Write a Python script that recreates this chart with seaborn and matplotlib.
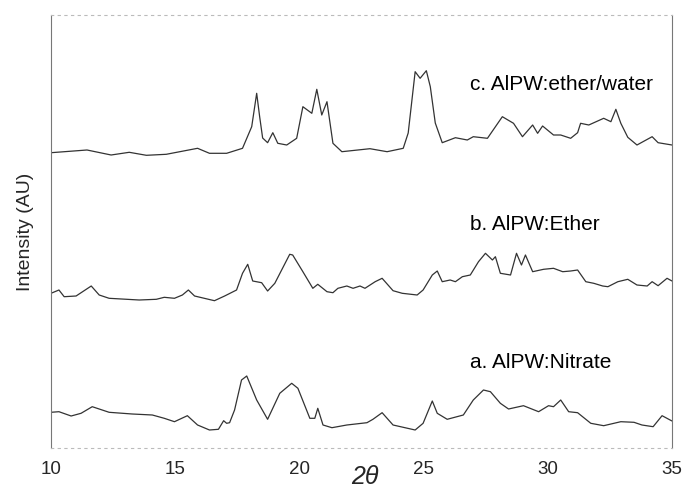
import matplotlib
matplotlib.use("Agg")
import matplotlib.pyplot as plt
import seaborn as sns

# trace a: AlPW:Nitrate
two_theta_a = [10.00, 10.32, 10.81, 11.21, 11.66, 12.34, 13.27, 14.08, 14.56, 14.97, 15.49, 15.90,
               16.38, 16.74, 16.95, 17.07, 17.19, 17.39, 17.67, 17.88, 18.28, 18.72, 19.21, 19.69,
               19.94, 20.42, 20.62, 20.74, 20.95, 21.31, 21.91, 22.72, 22.96, 23.33, 23.77, 24.66,
               24.98, 25.35, 25.55, 25.95, 26.60, 27.00, 27.41, 27.69, 28.09, 28.42, 29.02, 29.63,
               30.03, 30.23, 30.52, 30.84, 31.20, 31.73, 32.25, 32.94, 33.47, 33.79, 34.24, 34.60, 35.00]
intensity_a = [35.7, 36.3, 32.0, 34.7, 41.3, 35.7, 34.0, 33.0, 29.7, 26.3, 32.3, 23.0,
               18.0, 18.7, 27.3, 24.7, 25.3, 38.0, 68.0, 72.0, 48.0, 28.7, 54.7, 64.7,
               59.7, 29.7, 29.7, 39.7, 23.0, 20.3, 23.0, 25.3, 28.7, 35.3, 23.0, 18.0,
               24.7, 47.0, 34.7, 28.7, 33.0, 48.0, 58.0, 56.3, 44.7, 39.0, 42.3, 36.3,
               42.3, 41.3, 48.0, 36.3, 35.3, 24.7, 22.3, 26.3, 25.7, 23.0, 21.3, 32.3, 27.0]

# trace b: AlPW:Ether
two_theta_b = [10.00, 10.32, 10.53, 11.01, 11.62, 11.94, 12.34, 13.55, 14.24, 14.56, 14.97, 15.29,
               15.53, 15.78, 16.58, 16.99, 17.47, 17.71, 17.92, 18.12, 18.48, 18.72, 19.01, 19.61,
               19.73, 20.14, 20.54, 20.74, 21.11, 21.35, 21.55, 21.91, 22.16, 22.44, 22.64, 23.05,
               23.33, 23.77, 24.14, 24.74, 24.98, 25.35, 25.55, 25.75, 26.07, 26.28, 26.56, 26.88,
               27.21, 27.49, 27.77, 27.89, 28.09, 28.50, 28.74, 28.94, 29.10, 29.39, 29.83, 30.23,
               30.60, 30.92, 31.20, 31.53, 31.85, 32.21, 32.42, 32.82, 33.22, 33.59, 34.00, 34.20,
               34.44, 34.80, 35.00]
intensity_b = [154.7, 158.0, 151.3, 152.0, 162.0, 153.0, 149.7, 148.0, 148.7, 150.7, 149.7, 153.0,
               158.0, 152.0, 147.3, 152.0, 158.0, 174.7, 183.7, 167.0, 165.3, 157.0, 164.7, 193.7,
               193.0, 176.3, 159.7, 163.7, 156.3, 155.3, 159.7, 162.0, 159.7, 162.0, 159.7, 166.3,
               169.7, 157.3, 154.7, 153.0, 158.0, 173.0, 177.0, 166.3, 168.0, 166.3, 171.3, 173.0,
               186.3, 194.7, 188.0, 191.3, 174.7, 173.0, 194.7, 183.0, 193.0, 176.3, 178.7, 179.7,
               176.3, 177.0, 178.0, 166.3, 164.7, 162.0, 161.3, 166.3, 168.7, 163.0, 162.0, 166.3,
               162.3, 169.7, 167.0]

# trace c: AlPW:ether/water
two_theta_c = [10.00, 11.45, 12.42, 13.15, 13.84, 14.64, 15.90, 16.38, 17.07, 17.71, 18.08, 18.28,
               18.40, 18.52, 18.72, 18.93, 19.13, 19.49, 19.89, 20.14, 20.50, 20.70, 20.90, 21.11,
               21.35, 21.71, 22.84, 23.53, 24.18, 24.38, 24.66, 24.86, 25.11, 25.27, 25.47, 25.75,
               26.28, 26.76, 27.00, 27.57, 28.17, 28.62, 28.98, 29.39, 29.59, 29.79, 30.23, 30.52,
               30.92, 31.20, 31.32, 31.65, 32.25, 32.54, 32.74, 32.94, 33.22, 33.59, 34.20, 34.44, 35.00]
intensity_c = [295.3, 298.0, 293.0, 295.7, 292.7, 293.7, 299.7, 294.7, 294.7, 299.7, 321.3, 354.7,
               331.3, 310.0, 305.3, 315.3, 304.7, 303.0, 309.7, 341.3, 334.7, 358.7, 333.0, 346.3,
               304.7, 296.3, 299.3, 296.3, 299.7, 315.0, 376.3, 369.7, 377.3, 361.3, 325.0, 305.3,
               310.3, 308.0, 311.3, 309.7, 331.3, 324.7, 311.3, 323.0, 314.7, 322.0, 313.0, 313.0,
               309.7, 315.3, 324.7, 323.0, 329.7, 326.3, 338.7, 324.7, 310.7, 303.0, 311.3, 305.3, 303.0]

labels = ["a. AlPW:Nitrate", "b. AlPW:Ether", "c. AlPW:ether/water"]
label_y = [86, 223, 364]
x_ticks = [10, 15, 20, 25, 30, 35]

sns.set_style("white")
plt.rcParams['font.family'] = ['Liberation Sans', 'DejaVu Sans']

fig = plt.figure(figsize=(6.83, 4.87), dpi=100)
ax = fig.add_axes([51 / 683, 39 / 487, 621 / 683, 433 / 487])

for xs, ys in ((two_theta_a, intensity_a), (two_theta_b, intensity_b), (two_theta_c, intensity_c)):
    sns.lineplot(x=xs, y=ys, ax=ax, color="#333333", lw=0.9, estimator=None, sort=False)

for lab, yy in zip(labels, label_y):
    ax.text(26.85, yy, lab, ha="left", va="center", fontsize=15, color="black")

ax.set_xlim(10, 35)
ax.set_ylim(0, 433)
ax.set_xticks(x_ticks)
ax.set_xticklabels([str(t) for t in x_ticks], fontsize=13.5)
ax.set_yticks([])
ax.tick_params(axis="x", direction="in", length=3, pad=9, color="#999999")
ax.set_ylabel("Intensity (AU)", fontsize=14, labelpad=12)
ax.text(0.505, -0.082, "2θ", transform=ax.transAxes, ha="center", va="baseline",
        fontsize=18, style="italic")

for side in ("left", "right"):
    ax.spines[side].set_color("#777777")
    ax.spines[side].set_linewidth(0.8)
for side in ("top", "bottom"):
    ax.spines[side].set_color("#bbbbbb")
    ax.spines[side].set_linewidth(0.8)
    ax.spines[side].set_linestyle((0, (2, 4)))

fig.savefig("out.png", dpi=100)
